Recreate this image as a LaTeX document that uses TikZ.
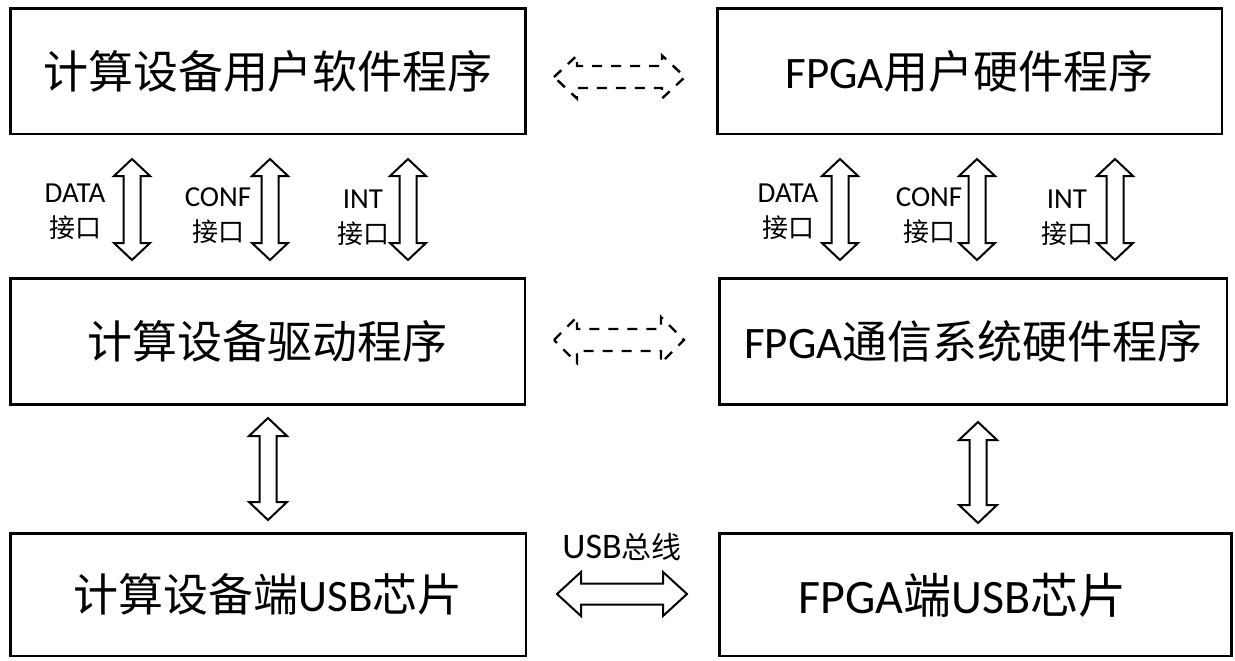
\documentclass[tikz,border=0pt]{standalone}
\usepackage{fontspec}
\setmainfont{Carlito}
\newfontfamily\cjk{Noto Sans CJK SC}
\usetikzlibrary{calc}

% vertical block arrow with heads at both ends:
% #1 options, #2 top tip, #3 bottom tip, #4 shaft half width, #5 head half width, #6 head length
\newcommand\vblockarrow[6][]{%
  \draw[#1] (#2) -- ($(#2)+(#5,#6)$) -- ($(#2)+(#4,#6)$) -- ($(#3)+(#4,-#6)$)
    -- ($(#3)+(#5,-#6)$) -- (#3) -- ($(#3)+(-#5,-#6)$) -- ($(#3)+(-#4,-#6)$)
    -- ($(#2)+(-#4,#6)$) -- ($(#2)+(-#5,#6)$) -- cycle;}
% horizontal block arrow with heads at both ends: #2 left tip, #3 right tip
\newcommand\hblockarrow[6][]{%
  \draw[#1] (#2) -- ($(#2)+(#6,-#5)$) -- ($(#2)+(#6,-#4)$) -- ($(#3)+(-#6,-#4)$)
    -- ($(#3)+(-#6,-#5)$) -- (#3) -- ($(#3)+(-#6,#5)$) -- ($(#3)+(-#6,#4)$)
    -- ($(#2)+(#6,#4)$) -- ($(#2)+(#6,#5)$) -- cycle;}

% small interface label: Latin word over the Chinese word
\newcommand\iflabel[1]{{\fontsize{29}{35}\selectfont #1}\\{\cjk 接口}}

\tikzset{
  box/.style={draw, line width=2.8pt, inner sep=0pt, font=\fontsize{45}{54}\selectfont},
  lbl/.style={align=center, inner sep=0pt, font=\fontsize{26}{35}\selectfont},
  solidarrow/.style={line width=2pt, line join=miter, fill=white},
  dasharrow/.style={line width=2.4pt, dash pattern=on 10pt off 9pt}
}

\begin{document}
\begin{tikzpicture}[x=1pt, y=-1pt]
\fill[white] (0,0) rectangle (1235,661);
\useasboundingbox (0,0) rectangle (1235,661);

% software side
\node[box, minimum width=515, minimum height=125.5] (sw)  at (268,71.2)  {\cjk 计算设备用户软件程序};
\node[box, minimum width=514.5, minimum height=126] (drv) at (267.8,341.5) {\cjk 计算设备驱动程序};
\node[box, minimum width=515.5, minimum height=122.5] (husb) at (268.3,594.8) {{\cjk 计算设备端}USB{\cjk 芯片}};

% hardware side
\node[box, minimum width=504.5, minimum height=125.5] (hw)  at (969.8,71.2) {FPGA{\cjk 用户硬件程序}};
\node[box, minimum width=507.5, minimum height=126] (comm) at (973.3,341.5) {FPGA{\cjk 通信系统硬件程序}};
\node[box, minimum width=512, minimum height=122.5, font=\fontsize{48}{56}\selectfont] (fusb) at (975.5,594.8) {FPGA{\cjk 端}USB{\cjk 芯片}\kern26pt};

% arrow end points
\coordinate (sdt) at (132,159);  \coordinate (sdb) at (132,260);
\coordinate (sct) at (270,159);  \coordinate (scb) at (270,260);
\coordinate (sit) at (408,159);  \coordinate (sib) at (408,260);
\coordinate (hdt) at (840,159);  \coordinate (hdb) at (840,260);
\coordinate (hct) at (977,159);  \coordinate (hcb) at (977,260);
\coordinate (hit) at (1115,159); \coordinate (hib) at (1115,260);
\coordinate (slt) at (268,418);  \coordinate (slb) at (268,520);
\coordinate (hlt) at (978,422);  \coordinate (hlb) at (978,523);
\coordinate (usbl) at (557,594); \coordinate (usbr) at (687,594);
\coordinate (d1l) at (554,77);   \coordinate (d1r) at (685,77);
\coordinate (d2l) at (554,340);  \coordinate (d2r) at (684,340);

% interface arrows between user programs and drivers
\vblockarrow[solidarrow]{sdt}{sdb}{8.5}{18}{17}
\vblockarrow[solidarrow]{sct}{scb}{8.5}{18}{17}
\vblockarrow[solidarrow]{sit}{sib}{8.5}{18}{17}
\vblockarrow[solidarrow]{hdt}{hdb}{8.5}{18}{17}
\vblockarrow[solidarrow]{hct}{hcb}{8.5}{18}{17}
\vblockarrow[solidarrow]{hit}{hib}{8.5}{18}{17}

% driver / USB chip links
\vblockarrow[solidarrow]{slt}{slb}{8.5}{19}{18}
\vblockarrow[solidarrow]{hlt}{hlb}{8.5}{19}{18}

% USB bus
\hblockarrow[solidarrow]{usbl}{usbr}{10.5}{22}{24}

% logical links
\hblockarrow[dasharrow]{d1l}{d1r}{11}{21.5}{23}
\hblockarrow[dasharrow]{d2l}{d2r}{11}{23}{23}

% interface labels
\node[lbl] (ld1) at (75,212)   {\iflabel{DATA}};
\node[lbl] (lc1) at (218,216)  {\iflabel{CONF}};
\node[lbl] (li1) at (363,218)  {\iflabel{INT}};
\node[lbl] (ld2) at (788,212)  {\iflabel{DATA}};
\node[lbl] (lc2) at (929,216)  {\iflabel{CONF}};
\node[lbl] (li2) at (1067,218) {\iflabel{INT}};

\node[inner sep=0pt] (bus) at (622,547) {{\fontsize{36}{40}\selectfont USB}{\cjk\fontsize{30}{40}\selectfont 总线}};
\end{tikzpicture}
\end{document}
